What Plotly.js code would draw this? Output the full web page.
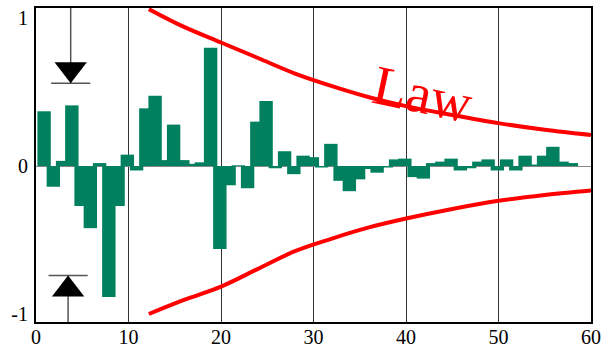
<!DOCTYPE html>
<html>
<head>
<meta charset="utf-8">
<script src="https://cdn.plot.ly/plotly-3.0.1.min.js"></script>
<style>html,body{margin:0;padding:0;background:#fff;}#chart{width:606px;height:349px;}</style>
</head>
<body>
<div id="chart"></div>
<script>
// Lags (1-based) and bar values (autocorrelation-like)
const lags = [];
for (let i = 1; i <= 58; i++) lags.push(i);
const values = [
  0.37, -0.14, 0.035, 0.41, -0.27, -0.42, 0.02, -0.885, -0.27, 0.077,
  -0.03, 0.39, 0.475, 0.04, 0.28, 0.04, 0.015, 0.025, 0.80, -0.56,
  -0.13, 0.005, -0.15, 0.30, 0.44, -0.015, 0.10, -0.055, 0.07, 0.06,
  -0.01, 0.15, -0.10, -0.17, -0.09, -0.02, -0.045, -0.01, 0.045, 0.05,
  -0.075, -0.085, 0.02, 0.03, 0.05, -0.03, -0.015, 0.03, 0.045, -0.03,
  0.045, -0.03, 0.07, 0.01, 0.07, 0.13, 0.03, 0.02
];

// "Law" bound curves
const lawX = [12.2, 16, 20, 24, 28, 32, 36, 40, 45, 50, 55, 60];
const lawUpper = [1.06, 0.94, 0.835, 0.73, 0.625, 0.54, 0.465, 0.405, 0.345, 0.29, 0.245, 0.21];
const lawLower = [-1.0, -0.905, -0.815, -0.695, -0.575, -0.49, -0.415, -0.355, -0.29, -0.235, -0.195, -0.165];

// Threshold markers
const markTopX = 3.75, markTopY = 0.56;
const markBotX = 3.47, markBotY = -0.74;

const xTicks = [0, 10, 20, 30, 40, 50, 60];
const yTicks = [-1, 0, 1];
const yTickText = ['-1', '0', '1'];

const W = 606, H = 349;
const M = {l: 36, r: 15, t: 8, b: 27};
const yRange = [-1.054, 1.068];
const pxPerUnit = (H - M.t - M.b) / (yRange[1] - yRange[0]);
const triSize = 28;
const triOff = (triSize / 2) / pxPerUnit;

const serif = 'Times New Roman, Liberation Serif, DejaVu Serif, Noto Serif, serif';
const green = '#00805f';
const red = '#ff0000';
const lineGray = '#555555';

const traces = [
  {
    type: 'bar', x: lags, y: values,
    width: 1.45, offset: -0.85,
    marker: {color: green, line: {width: 0}},
    hoverinfo: 'skip'
  },
  {
    type: 'scatter', mode: 'lines', x: lawX, y: lawUpper,
    line: {color: red, width: 4, shape: 'spline', smoothing: 1}, hoverinfo: 'skip'
  },
  {
    type: 'scatter', mode: 'lines', x: lawX, y: lawLower,
    line: {color: red, width: 4, shape: 'spline', smoothing: 1}, hoverinfo: 'skip'
  },
  // vertical stems
  {
    type: 'scatter', mode: 'lines', x: [markTopX, markTopX], y: [yRange[1], markTopY],
    line: {color: lineGray, width: 1.5}, hoverinfo: 'skip'
  },
  {
    type: 'scatter', mode: 'lines', x: [markBotX, markBotX], y: [markBotY, yRange[0]],
    line: {color: lineGray, width: 1.5}, hoverinfo: 'skip'
  },
  // horizontal tick at tip
  {
    type: 'scatter', mode: 'markers', x: [markTopX, markBotX], y: [markTopY, markBotY],
    marker: {symbol: 'line-ew', size: 28, line: {color: lineGray, width: 1.5}}, hoverinfo: 'skip'
  },
  // triangles
  {
    type: 'scatter', mode: 'markers', x: [markTopX], y: [markTopY + triOff],
    marker: {symbol: 'triangle-down', size: triSize, color: '#000', line: {width: 0}}, hoverinfo: 'skip'
  },
  {
    type: 'scatter', mode: 'markers', x: [markBotX], y: [markBotY - triOff],
    marker: {symbol: 'triangle-up', size: triSize, color: '#000', line: {width: 0}}, hoverinfo: 'skip'
  }
];

const layout = {
  width: W, height: H,
  margin: M,
  paper_bgcolor: '#fff', plot_bgcolor: '#fff',
  showlegend: false,
  barmode: 'overlay',
  font: {family: serif, size: 20, color: '#000'},
  xaxis: {
    range: [0, 60], tickvals: xTicks, ticktext: xTicks.map(String),
    showgrid: true, gridcolor: '#333', gridwidth: 1,
    zeroline: false, showline: true, linecolor: '#000', linewidth: 2, mirror: true,
    ticks: '', ticklabelstandoff: -4, tickfont: {family: serif, size: 20, color: '#000'}
  },
  yaxis: {
    range: yRange, tickvals: yTicks, ticktext: yTickText,
    showgrid: false, zeroline: true, zerolinecolor: '#888', zerolinewidth: 1,
    showline: true, linecolor: '#000', linewidth: 2, mirror: true,
    ticks: '', ticklabelstandoff: 2, tickfont: {family: serif, size: 20, color: '#000'}
  },
  annotations: [{
    x: 41.8, y: 0.49, xref: 'x', yref: 'y', text: 'Law', showarrow: false,
    textangle: 12, font: {family: serif, size: 56, color: red}
  }]
};

Plotly.newPlot('chart', traces, layout, {staticPlot: true, displayModeBar: false});
</script>
</body>
</html>
